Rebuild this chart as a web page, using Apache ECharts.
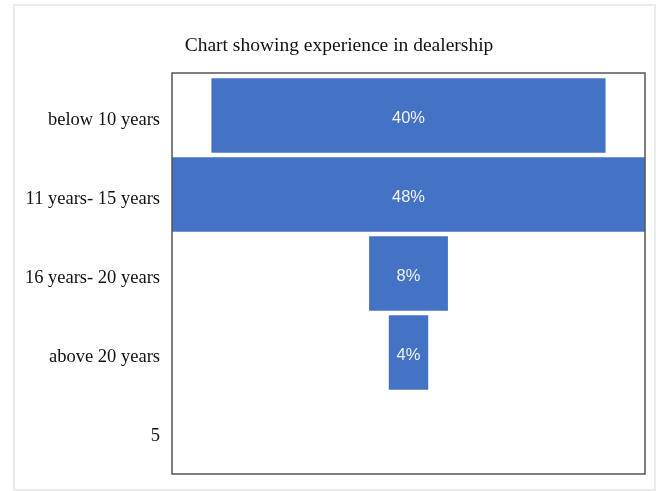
<!DOCTYPE html>
<html>
<head>
<meta charset="utf-8">
<script src="https://cdn.jsdelivr.net/npm/echarts@6/dist/echarts.min.js"></script>
<style>
  html, body { margin: 0; padding: 0; background: #fff; }
  #chart { width: 659px; height: 491px; }
</style>
</head>
<body>
<div id="chart"></div>
<script>
// Experience bands and their share of respondents (%)
const categories = ['below 10 years', '11 years- 15 years', '16 years- 20 years', 'above 20 years', '5'];
const shares = [40, 48, 8, 4, null];

// Funnel layout: an invisible spacer pushes each bar to the centre
const widest = Math.max(...shares.filter(v => v != null));
const spacer = shares.map(v => v == null ? null : (widest - v) / 2);

const chart = echarts.init(document.getElementById('chart'));
chart.setOption({
  backgroundColor: '#fff',
  animation: false,
  title: {
    text: 'Chart showing experience in dealership',
    left: 334,
    textAlign: 'center',
    top: 31,
    textStyle: {
      fontFamily: 'Liberation Serif, Times New Roman, serif',
      fontWeight: 'normal',
      fontSize: 19.5,
      color: '#111'
    }
  },
  graphic: [
    {
      // outer frame of the figure
      type: 'rect',
      shape: { x: 14, y: 5, width: 641, height: 485 },
      style: { fill: 'none', stroke: '#ebebeb', lineWidth: 2 },
      silent: true,
      z: -1
    },
    {
      // plot-area border
      type: 'rect',
      shape: { x: 172, y: 73, width: 473, height: 401 },
      style: { fill: 'none', stroke: '#555', lineWidth: 1.5 },
      silent: true,
      z: 10
    }
  ],
  grid: {
    left: 172, right: 14, top: 76, bottom: 20,
    show: false
  },
  xAxis: {
    type: 'value',
    min: 0,
    max: widest,
    show: false
  },
  yAxis: {
    type: 'category',
    data: categories,
    inverse: true,
    axisLine: { show: false },
    axisTick: { show: false },
    axisLabel: {
      margin: 12,
      fontFamily: 'Liberation Serif, Times New Roman, serif',
      fontSize: 18.5,
      color: '#111',
      verticalAlign: 'top',
      lineHeight: 10
    }
  },
  series: [
    {
      type: 'bar',
      stack: 'funnel',
      data: spacer,
      itemStyle: { color: 'transparent' },
      barCategoryGap: '6%',
      silent: true
    },
    {
      type: 'bar',
      stack: 'funnel',
      data: shares,
      barCategoryGap: '6%',
      itemStyle: { color: '#4472C4' },
      label: {
        show: true,
        position: 'inside',
        offset: [0, 3],
        formatter: p => p.value == null ? '' : p.value + '%',
        fontFamily: 'Liberation Sans Narrow, Arial Narrow, sans-serif',
        fontSize: 16.5,
        color: '#f2f2f2'
      }
    }
  ]
});
</script>
</body>
</html>
